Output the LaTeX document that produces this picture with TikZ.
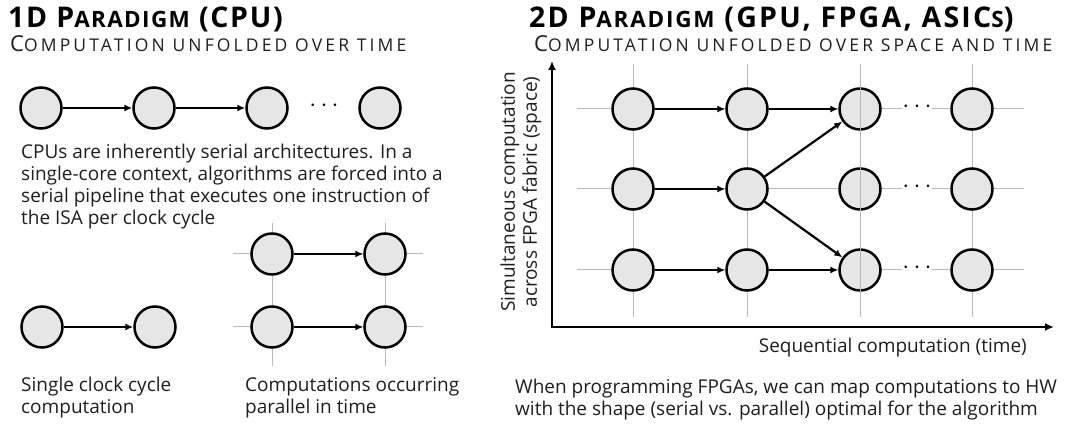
\documentclass[tikz,border=0pt]{standalone}
\usepackage{fontspec}
\setmainfont{Open Sans}
\usepackage{xcolor}
\usepackage{tikz}
\usetikzlibrary{arrows.meta}

\newcommand{\capsbig}[1]{{\fontsize{28.5}{32}\selectfont #1}}
\newcommand{\capssmall}[1]{{\fontsize{22.5}{32}\selectfont #1}}
\newcommand{\subbig}[1]{{\fontsize{22}{26}\selectfont #1}}
\newcommand{\subsmall}[1]{{\fontsize{17.5}{26}\selectfont #1}}

\begin{document}
\begin{tikzpicture}[x=1pt,y=-1pt,
  op/.style={circle,draw=black,line width=2.5pt,fill=opfill,minimum size=41pt,inner sep=0pt},
  flow/.style={line width=2.2pt,-{Latex[length=8pt,width=7pt]}},
  gridline/.style={draw=gridgray,line width=1pt},
  axis/.style={line width=2.6pt,line join=miter,{Latex[length=9pt,width=8pt]}-{Latex[length=9pt,width=8pt]}},
  body/.style={font=\fontsize{19}{22}\selectfont,text=textgray,inner sep=0pt,align=left},
  head/.style={anchor=base west,inner sep=0pt,font=\bfseries\addfontfeature{LetterSpace=6}},
  sub/.style={anchor=base west,inner sep=0pt,text=textgray,font=\addfontfeature{LetterSpace=18}},
  dots/.style={font=\fontsize{25}{25}\selectfont,inner sep=0pt}]
\definecolor{opfill}{RGB}{230,230,230}
\definecolor{gridgray}{RGB}{185,185,185}
\definecolor{textgray}{RGB}{30,30,30}
\useasboundingbox (0,0) rectangle (1080,427);

\node[head] (titleL) at (8,28) {\capsbig{1D P}\capssmall{ARADIGM}\capsbig{ (CPU)}};
\node[sub] (subL) at (10,52) {\subbig{C}\subsmall{OMPUTATION UNFOLDED OVER TIME}};
\node[head,font=\bfseries\addfontfeature{LetterSpace=8}] (titleR) at (529,28) {\capsbig{2D P}\capssmall{ARADIGM}\capsbig{ (GPU, FPGA, ASIC}\capssmall{S}\capsbig{)}};
\node[sub] (subR) at (534,52) {\subbig{C}\subsmall{OMPUTATION UNFOLDED OVER SPACE AND TIME}};

\node[op] (s1) at (41,108) {};
\node[op] (s2) at (154,108) {};
\node[op] (s3) at (267,108) {};
\node[dots] (sdots) at (324,106) {$\cdots$};
\node[op] (s4) at (380,108) {};
\draw[flow] (s1) -- (s2);
\draw[flow] (s2) -- (s3);

\node[body,anchor=base west] (cputext) at (21,225) {CPUs are inherently serial architectures. In a\\single-core context, algorithms are forced into a\\serial pipeline that executes one instruction of\\the ISA per clock cycle};

\node[op] (a1) at (42,327) {};
\node[op] (a2) at (155,327) {};
\draw[flow] (a1) -- (a2);

\draw[gridline] (233,254) -- (423,254);
\draw[gridline] (233,327) -- (423,327);
\draw[gridline] (272,223) -- (272,366);
\draw[gridline] (385,223) -- (385,366);
\node[op] (p1) at (272,254) {};
\node[op] (p2) at (385,254) {};
\node[op] (p3) at (272,327) {};
\node[op] (p4) at (385,327) {};
\draw[flow] (p1) -- (p2);
\draw[flow] (p3) -- (p4);

\node[body,anchor=base west] (cap1) at (21,414) {Single clock cycle\\computation};
\node[body,anchor=base west] (cap2) at (245,414) {Computations occurring\\parallel in time};

\foreach \x in {633,747,860,972}
  \draw[gridline] (\x,64) -- (\x,317);
\foreach \y in {109,189,270}
  \draw[gridline] (577,\y) -- (1024,\y);
\foreach \x/\i in {633/0,747/1,860/2,972/3}
  \foreach \y/\j in {109/0,189/1,270/2}
    \node[op] (q\i\j) at (\x,\y) {};
\draw[gridline] (860,64) -- (860,317);
\foreach \y/\j in {109/0,189/1,270/2}
  \node[dots,fill=white] (qdots\j) at (917,\y-2) {$\cdots$};

\draw[flow] (q00) -- (q10);
\draw[flow] (q10) -- (q20);
\draw[flow] (q01) -- (q11);
\draw[flow] (q11) -- (q20);
\draw[flow] (q11) -- (q22);
\draw[flow] (q02) -- (q12);
\draw[flow] (q12) -- (q22);

\coordinate (origin) at (552,327);
\coordinate (ytip) at (552,61);
\coordinate (xtip) at (1054,327);
\draw[axis] (ytip) -- (origin) -- (xtip);

\node[body,rotate=90,align=center] (ylabel) at (521,192) {Simultaneous computation\\across FPGA fabric (space)};
\node[body,anchor=base east] (xlabel) at (1027,353) {Sequential computation (time)};
\node[body,anchor=base west] (fpgatext) at (515,416) {When programming FPGAs, we can map computations to HW\\with the shape (serial vs. parallel) optimal for the algorithm};
\end{tikzpicture}
\end{document}
